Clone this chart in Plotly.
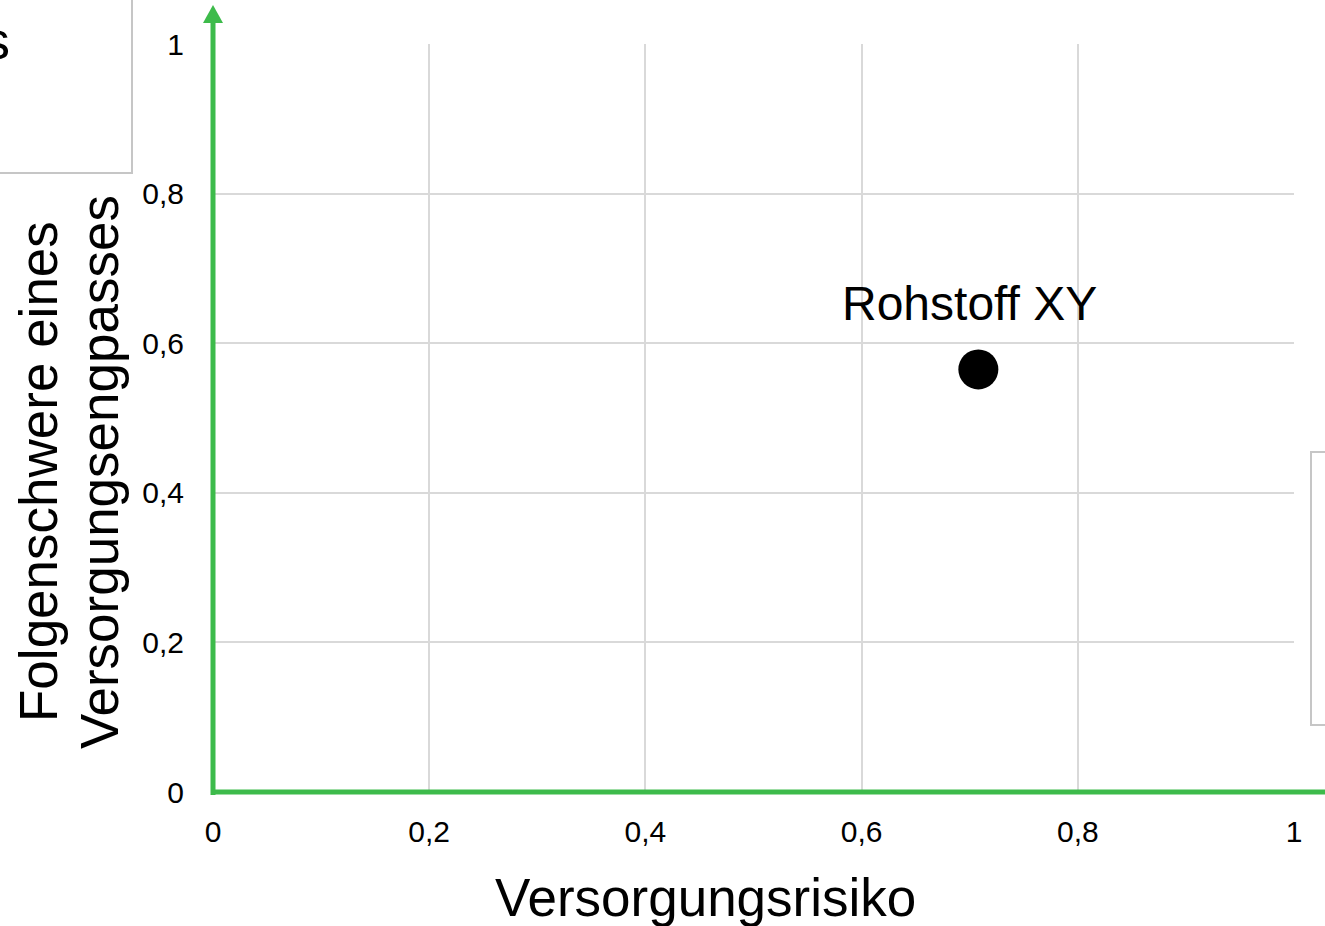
import plotly.graph_objects as go

# Rohstoff-Bewertung: Versorgungsrisiko vs. Folgenschwere
rohstoffe = ["Rohstoff XY"]
versorgungsrisiko = [0.708]
folgenschwere = [0.565]

tick_vals = [0, 0.2, 0.4, 0.6, 0.8, 1]
tick_text = ["0", "0,2", "0,4", "0,6", "0,8", "1"]

x_title = "Versorgungsrisiko"
y_title_lines = ["Folgenschwere eines", "Versorgungsengpasses"]

GREEN = "#3dbb4b"
GRID = "#d9d9d9"
BOX = "#c6c6c6"
FONT = "Liberation Sans, Arial, sans-serif"

W, H = 1325, 926
L, R, T, B = 213, 31, 44, 134
PW, PH = W - L - R, H - T - B


def px(x):
    return (x - L) / PW


def py(y):
    return (H - B - y) / PH


fig = go.Figure()
fig.add_trace(go.Scatter(
    x=versorgungsrisiko, y=folgenschwere, mode="markers",
    marker=dict(size=40, color="black"),
    hoverinfo="skip", showlegend=False,
))

axis_common = dict(
    range=[0, 1], tickvals=tick_vals, ticktext=tick_text,
    showgrid=True, gridcolor=GRID, gridwidth=1.5,
    zeroline=False, showline=False,
    ticks="outside", tickcolor="rgba(0,0,0,0)",
    tickfont=dict(family=FONT, size=30, color="black"),
    fixedrange=True,
)

fig.update_layout(
    width=W, height=H, autosize=False,
    margin=dict(l=L, r=R, t=T, b=B),
    paper_bgcolor="white", plot_bgcolor="white",
    xaxis=dict(**axis_common, ticklen=13),
    yaxis=dict(**axis_common, ticklen=22),
    showlegend=False,
)

shapes = [
    # green axes with arrow on the vertical axis
    dict(type="line", xref="paper", yref="paper", x0=0, x1=0,
         y0=py(795), y1=py(20), line=dict(color=GREEN, width=5)),
    dict(type="line", xref="paper", yref="paper", x0=px(211), x1=px(1340),
         y0=0, y1=0, line=dict(color=GREEN, width=5)),
    dict(type="path", xref="paper", yref="paper",
         path=f"M {px(213)} {py(5)} L {px(203)} {py(23)} L {px(223)} {py(23)} Z",
         fillcolor=GREEN, line=dict(width=0)),
    # side boxes
    dict(type="rect", xref="paper", yref="paper", x0=px(-10), x1=px(132),
         y0=py(173), y1=py(-10), line=dict(color=BOX, width=2), fillcolor="rgba(0,0,0,0)"),
    dict(type="rect", xref="paper", yref="paper", x0=px(1311), x1=px(1340),
         y0=py(725), y1=py(452), line=dict(color=BOX, width=2), fillcolor="rgba(0,0,0,0)"),
]
fig.update_layout(shapes=shapes)

annotations = []
for name, xv, yv in zip(rohstoffe, versorgungsrisiko, folgenschwere):
    annotations.append(dict(
        x=xv, y=yv, xref="x", yref="y", text=name, showarrow=False,
        xshift=-9, yshift=66, font=dict(family=FONT, size=48, color="black"),
    ))
annotations.append(dict(
    x=px(705), y=py(898), xref="paper", yref="paper", text=x_title,
    showarrow=False, xanchor="center", yanchor="middle",
    font=dict(family=FONT, size=53, color="black"),
))
for text, cx in zip(y_title_lines, [38, 99]):
    annotations.append(dict(
        x=px(cx), y=py(472), xref="paper", yref="paper", text=text,
        showarrow=False, textangle=-90, xanchor="center", yanchor="middle",
        font=dict(family=FONT, size=53, color="black"),
    ))
annotations.append(dict(
    x=px(12), y=py(40), xref="paper", yref="paper", text="s",
    showarrow=False, xanchor="right", yanchor="middle",
    font=dict(family=FONT, size=54, color="black"),
))
fig.update_layout(annotations=annotations)

fig.write_html("out.html", config={"displayModeBar": False})
